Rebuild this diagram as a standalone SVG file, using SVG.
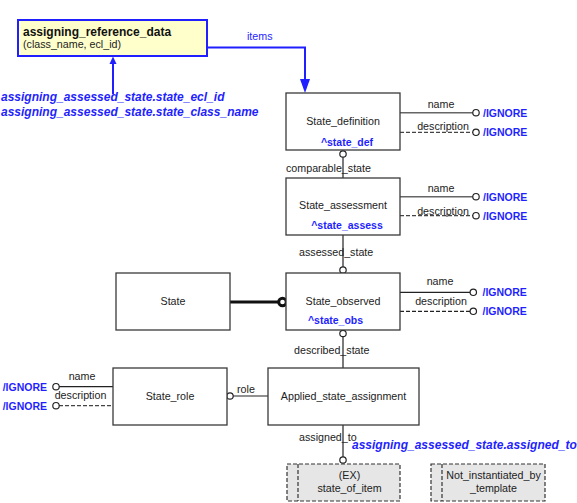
<svg xmlns="http://www.w3.org/2000/svg" width="577" height="503" viewBox="0 0 577 503">
<style>
text{font-family:"Liberation Sans",Arial,sans-serif;font-size:10.7px;fill:#222}
.c{text-anchor:middle}
.e{text-anchor:end}
.b{font-weight:bold;fill:#1f1fff;font-size:10.5px}
.bi{font-weight:bold;font-style:italic;fill:#1f1fff;font-size:12px}
.t{font-weight:bold;font-size:12px;fill:#111}
.box{fill:#fff;stroke:#3a3a3a;stroke-width:1.3}
.ex{fill:#e6e6e6;stroke:#333;stroke-width:1.2;stroke-dasharray:4 2}
.ln{stroke:#222;stroke-width:1.2;fill:none}
.lg{stroke:#666;stroke-width:1.4;fill:none}
.dl{stroke:#444;stroke-width:1.2;stroke-dasharray:4 2;fill:none}
.oc{fill:#fff;stroke:#222;stroke-width:1.2}
.blu{stroke:#1f1fff;stroke-width:2;fill:none}
</style>
<g id="connectors">
<path class="blu" d="M207,47.5 H305 V80"/>
<polygon points="300,79 310,79 305,93" fill="#1f1fff"/>
<text x="247" y="40" style="fill:#1f1fff">items</text>
<path class="blu" d="M113,94 V63" stroke-width="1.4"/>
<polygon points="109.5,64 116.5,64 113,56.5" fill="#1f1fff"/>
<line class="ln" x1="343" y1="157" x2="343" y2="178"/>
<circle class="oc" cx="343" cy="154" r="3.2"/>
<text x="286" y="172">comparable_state</text>
<line class="ln" x1="343" y1="235" x2="343" y2="267"/>
<circle class="oc" cx="343" cy="270" r="3.2"/>
<text x="299" y="256">assessed_state</text>
<line x1="230" y1="302" x2="278" y2="302" stroke="#111" stroke-width="3"/>
<circle cx="282.5" cy="302" r="3.8" fill="#fff" stroke="#111" stroke-width="3"/>
<line class="ln" x1="343" y1="336.5" x2="343" y2="368"/>
<circle class="oc" cx="343" cy="333.5" r="3.2"/>
<text x="294" y="354">described_state</text>
<line class="ln" x1="233" y1="396" x2="268" y2="396"/>
<circle class="oc" cx="230" cy="396" r="3.2"/>
<text x="237" y="392.5">role</text>
<line class="ln" x1="343" y1="425" x2="343" y2="457"/>
<circle class="oc" cx="343" cy="460" r="3.2"/>
<text x="299" y="441">assigned_to</text>
<text class="bi" x="352" y="449">assigning_assessed_state.assigned_to</text>
<line class="lg" x1="400" y1="112.7" x2="473" y2="112.7"/>
<circle class="oc" cx="476" cy="112.7" r="3.2"/>
<text class="c" x="441" y="108">name</text>
<text class="b" x="483" y="116.5">/IGNORE</text>
<line class="dl" x1="400" y1="132.3" x2="473" y2="132.3"/>
<circle class="oc" cx="476" cy="132.3" r="3.2"/>
<text class="c" x="443" y="130">description</text>
<text class="b" x="483" y="136">/IGNORE</text>
<line class="lg" x1="400" y1="196.7" x2="473" y2="196.7"/>
<circle class="oc" cx="476" cy="196.7" r="3.2"/>
<text class="c" x="441" y="191.5">name</text>
<text class="b" x="483" y="200.5">/IGNORE</text>
<line class="dl" x1="400" y1="215.7" x2="473" y2="215.7"/>
<circle class="oc" cx="476" cy="215.7" r="3.2"/>
<text class="c" x="443" y="215">description</text>
<text class="b" x="483" y="219.5">/IGNORE</text>
<line class="ln" x1="400" y1="292.3" x2="470" y2="292.3"/>
<circle class="oc" cx="473.3" cy="292.3" r="3.2"/>
<text class="c" x="440" y="285">name</text>
<text class="b" x="482.5" y="296">/IGNORE</text>
<line class="ln" x1="400" y1="311.3" x2="470" y2="311.3" stroke-dasharray="4 2"/>
<circle class="oc" cx="473.3" cy="311.3" r="3.2"/>
<text class="c" x="441" y="305">description</text>
<text class="b" x="482.5" y="315">/IGNORE</text>
<line class="ln" x1="59" y1="386.7" x2="113" y2="386.7"/>
<circle class="oc" cx="56" cy="386.7" r="3.2"/>
<text class="c" x="82" y="379.5">name</text>
<text class="b e" x="47" y="390.5">/IGNORE</text>
<line class="dl" x1="59" y1="405.7" x2="113" y2="405.7"/>
<circle class="oc" cx="56" cy="405.7" r="3.2"/>
<text class="c" x="80.5" y="399">description</text>
<text class="b e" x="47" y="409.5">/IGNORE</text>
</g>
<g id="assigning_reference_data">
<rect x="18" y="20" width="189" height="36" fill="#ffffcc" stroke="#1f1fff" stroke-width="2"/>
<text class="t" x="23" y="36">assigning_reference_data</text>
<text x="23" y="48">(class_name, ecl_id)</text>
</g>
<g id="ref_labels">
<text class="bi" x="1" y="101">assigning_assessed_state.state_ecl_id</text>
<text class="bi" x="1" y="115.5">assigning_assessed_state.state_class_name</text>
</g>
<g id="State_definition">
<rect class="box" x="286" y="93" width="114" height="57"/>
<text class="c" x="343" y="125">State_definition</text>
<text class="b c" x="347" y="146">^state_def</text>
</g>
<g id="State_assessment">
<rect class="box" x="286" y="178" width="114" height="57"/>
<text class="c" x="343" y="209">State_assessment</text>
<text class="b c" x="347" y="229">^state_assess</text>
</g>
<g id="State">
<rect class="box" x="116" y="273" width="114" height="57"/>
<text class="c" x="173" y="305">State</text>
</g>
<g id="State_observed">
<rect class="box" x="286" y="273" width="114" height="57"/>
<text class="c" x="343" y="305">State_observed</text>
<text class="b c" x="335.5" y="324">^state_obs</text>
</g>
<g id="State_role">
<rect class="box" x="113" y="368" width="114" height="57"/>
<text class="c" x="170" y="400">State_role</text>
</g>
<g id="Applied_state_assignment">
<rect class="box" x="268" y="368" width="151" height="57"/>
<text class="c" x="343.5" y="400">Applied_state_assignment</text>
</g>
<g id="state_of_item">
<rect class="ex" x="287" y="464" width="113" height="37"/>
<line x1="298" y1="464" x2="298" y2="501" stroke="#333" stroke-width="1.2" stroke-dasharray="4 2"/>
<text class="c" x="349.5" y="479">(EX)</text>
<text class="c" x="349.5" y="491.5">state_of_item</text>
</g>
<g id="Not_instantiated_by_template">
<rect class="ex" x="431" y="464" width="114" height="37"/>
<line x1="442" y1="464" x2="442" y2="501" stroke="#333" stroke-width="1.2" stroke-dasharray="4 2"/>
<text class="c" x="493.5" y="479">Not_instantiated_by</text>
<text class="c" x="493.5" y="491.5">_template</text>
</g>
</svg>
